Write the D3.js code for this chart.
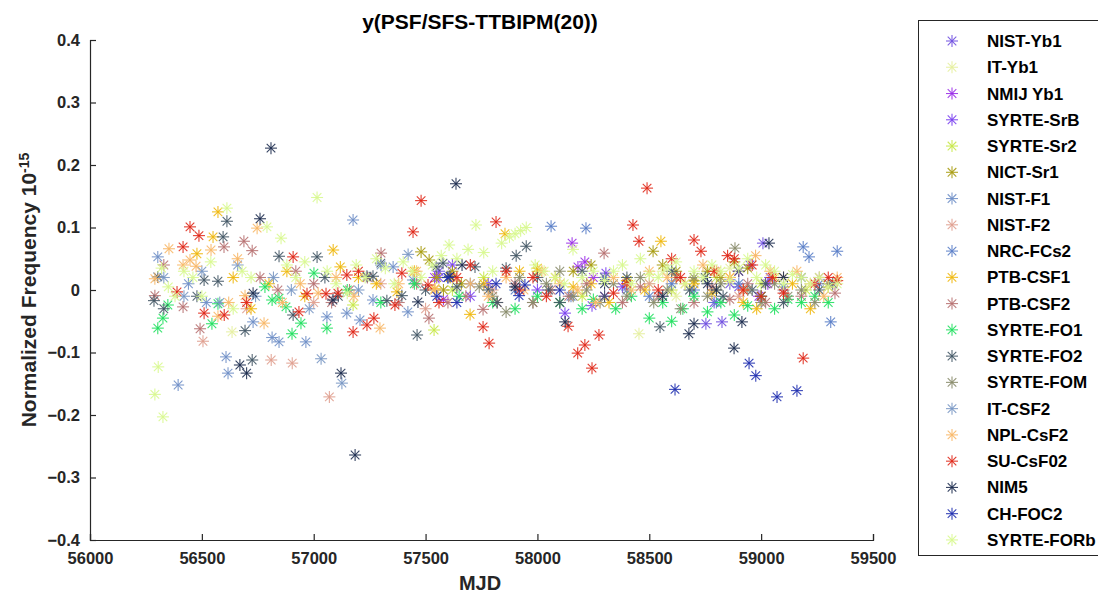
<!DOCTYPE html>
<html>
<head>
<meta charset="utf-8">
<script src="https://cdn.jsdelivr.net/npm/d3@7"></script>
<style>
  body { margin: 0; background: #fff; }
  text { font-family: "Liberation Sans", Arial, Helvetica, sans-serif; font-weight: bold; }
</style>
</head>
<body>
<svg id="chart"></svg>
<script>
// labs in legend order, values as [MJD, y (1e-15)]
const names = ["NIST-Yb1", "IT-Yb1", "NMIJ Yb1", "SYRTE-SrB", "SYRTE-Sr2", "NICT-Sr1",
  "NIST-F1", "NIST-F2", "NRC-FCs2", "PTB-CSF1", "PTB-CSF2", "SYRTE-FO1", "SYRTE-FO2",
  "SYRTE-FOM", "IT-CSF2", "NPL-CsF2", "SU-CsF02", "NIM5", "CH-FOC2", "SYRTE-FORb"];
const colors = ["#7050e0", "#e6f0a0", "#9b30e8", "#7a40f0", "#c8e84a", "#a89c12",
  "#7090c8", "#e0a090", "#5a7ec8", "#f0b810", "#b87272", "#22e060", "#445866",
  "#8a8c6c", "#7a98c4", "#f8b868", "#e02818", "#1e2e50", "#2030b0", "#d8f890"];

const nistYb1 = [[57560,0.03],[58753,-0.054],[58790,-0.02],[58825,-0.051],[58860,0.01],[58900,0.005],[58950,0.04],[59008,0.075],[59040,0.02]];
const itYb1 = [[56635,-0.067],[58454,-0.070],[58500,0.01],[58560,0.03],[58620,-0.01],[58700,0.02],[58800,0.0],[58860,0.035]];
const nmijYb1 = [[57540,0.02],[57580,-0.015],[58155,0.075],[58181,0.037],[58212,0.045],[58250,0.02],[58300,-0.01],[58900,0.03],[58990,-0.01],[59030,0.01]];
const syrteSrB = [[57560,0.02],[57620,0.04],[57700,-0.01],[57780,0.01],[58000,0.0],[58123,-0.037],[58244,-0.025],[58306,0.027],[58380,0.005]];
const syrteSr2 = [[57176,-0.024],[57538,-0.064],[57620,0.0],[57760,0.02],[58000,0.03],[58200,-0.01],[58400,0.015],[58600,0.0],[58800,0.02],[59000,0.01],[59200,0.0]];
const nictSr1 = [[57480,0.061],[57516,0.048],[57550,0.02],[57580,0.0],[57620,0.03],[57660,0.01],[58160,0.03],[58240,0.04],[58300,0.02],[58517,0.062],[58560,0.04],[58620,0.03],[58700,0.015],[58760,0.03],[58820,0.02],[58880,0.045],[58940,0.035]];
const nistF1 = [[56303,0.053],[56394,-0.152],[56440,0.01],[56520,-0.02],[56608,-0.107],[56617,-0.133],[56729,-0.051],[56814,-0.076],[56845,-0.083],[56965,-0.083],[57059,-0.043],[57148,-0.037],[57176,0.112],[57207,-0.048],[57265,-0.016],[57355,0.037],[57421,-0.035],[57444,0.016]];
const nistF2 = [[56505,-0.082],[56700,-0.03],[56810,-0.112],[56904,-0.117],[57000,-0.02],[57070,-0.171],[57300,0.01],[57500,-0.03],[57800,0.0],[58100,-0.02],[58500,0.01],[58900,-0.01]];
const nrcFCs2 = [[57600,0.02],[57700,0.01],[57900,0.0],[58061,0.102],[58150,-0.01],[58217,0.099],[58300,0.02],[58400,0.0],[58500,-0.01],[58600,0.01],[58700,0.0],[58800,-0.02],[58900,0.01],[59000,-0.01],[59100,0.005],[59188,0.069],[59214,0.053],[59260,0.01],[59311,-0.051],[59340,0.062]];
const ptbCSF1 = [[56478,0.058],[56550,0.085],[56572,0.125],[56640,0.02],[56720,-0.03],[56800,0.01],[56880,0.03],[56960,-0.01],[57087,0.064],[57119,0.037],[57200,0.02],[57280,0.01],[57372,-0.003],[57450,0.03],[57542,0.002],[57610,0.02],[57699,-0.039],[57760,0.01],[57855,0.09],[57920,0.03],[58000,0.035],[58080,0.02],[58160,0.005],[58240,0.01],[58320,-0.02],[58400,0.015],[58480,0.0],[58552,0.078],[58620,0.02],[58700,0.01],[58780,-0.005],[58860,0.02],[58920,-0.02],[58980,-0.03],[59060,0.02],[59140,0.01],[59220,-0.03],[59300,0.005]];
const ptbCSF2 = [[56290,-0.009],[56330,0.04],[56416,-0.027],[56492,-0.062],[56599,0.069],[56688,0.078],[56725,0.063],[56760,0.02],[56840,0.0],[56920,0.03],[57000,0.01],[57080,-0.02],[57160,0.0],[57240,0.02],[57301,0.059],[57380,-0.02],[57460,0.01],[57515,-0.045],[57600,-0.02],[57680,-0.01],[57757,-0.031],[57820,-0.02],[57900,0.01],[57980,-0.02],[58060,0.0],[58140,-0.01],[58220,0.01],[58298,0.059],[58380,-0.02],[58460,0.005],[58540,-0.01],[58620,0.02],[58700,-0.02],[58780,0.005],[58860,-0.015],[58940,0.01],[59020,-0.02],[59100,0.0],[59180,-0.01],[59260,0.02],[59330,-0.005]];
const syrteFO1 = [[56303,-0.061],[56326,-0.045],[56348,-0.024],[56545,-0.054],[56572,-0.022],[56782,0.005],[56814,-0.016],[56845,-0.013],[56876,-0.027],[56903,-0.07],[56943,-0.053],[57001,0.027],[57059,-0.061],[57150,0.0],[57300,-0.02],[57450,0.01],[57650,-0.01],[57800,-0.02],[57900,-0.03],[58000,-0.01],[58100,-0.02],[58200,-0.03],[58250,-0.015],[58350,-0.03],[58420,-0.01],[58500,-0.045],[58560,-0.02],[58600,-0.05],[58650,-0.03],[58700,-0.01],[58760,-0.035],[58820,-0.02],[58880,-0.04],[58940,-0.025],[59000,-0.01],[59060,-0.03],[59120,-0.015],[59180,-0.02],[59240,-0.01],[59300,-0.02]];
const syrteFO2 = [[56286,-0.017],[56303,0.021],[56330,-0.03],[56478,-0.01],[56510,0.016],[56572,0.014],[56595,0.085],[56612,0.11],[56693,-0.065],[56725,-0.112],[56845,0.054],[56908,-0.04],[57015,0.053],[57050,0.02],[57110,-0.01],[57238,0.022],[57265,0.022],[57300,0.043],[57327,-0.017],[57394,-0.009],[57462,-0.072],[57500,0.0],[57547,0.037],[57578,0.043],[57640,0.005],[57721,0.037],[57780,0.0],[57820,-0.02],[57860,0.035],[57905,0.055],[57950,0.07],[58000,0.02],[58050,0.0],[58100,-0.02],[58200,0.03],[58300,-0.01],[58400,0.02],[58548,-0.059],[58600,0.03],[58680,0.0],[58750,0.02],[58830,-0.01],[58900,0.03],[58960,0.0],[59020,0.01],[59100,-0.02],[59180,0.02],[59260,0.0],[59320,0.01]];
const syrteFOM = [[57740,0.005],[57800,-0.01],[57860,-0.035],[57920,0.02],[57980,-0.02],[58040,0.01],[58100,0.03],[58160,-0.01],[58220,0.0],[58280,-0.02],[58340,0.01],[58400,-0.01],[58460,0.02],[58520,-0.02],[58580,0.0],[58640,-0.03],[58700,0.02],[58760,-0.01],[58820,0.01],[58883,0.067],[58940,0.0],[59000,-0.02],[59060,0.01],[59120,-0.01],[59180,0.0],[59240,-0.02],[59300,0.01]];
const itCSF2 = [[56330,0.02],[56420,-0.01],[56500,0.03],[56580,-0.02],[56660,0.04],[56740,-0.01],[56820,0.02],[56900,0.0],[56980,-0.03],[57033,-0.11],[57126,-0.149],[57200,0.0],[57301,0.04],[57422,0.057]];
const nplCsF2 = [[56290,0.018],[56353,0.066],[56416,0.04],[56447,0.048],[56474,0.038],[56541,0.064],[56572,-0.042],[56620,-0.02],[56660,0.05],[56693,-0.009],[56747,0.099],[56778,-0.053],[56860,-0.02],[56940,0.01],[57020,-0.005],[57100,0.02],[57180,-0.01],[57296,-0.061],[57380,0.01],[57460,0.03],[57540,0.0],[57620,0.02],[57700,0.01],[57780,-0.01],[57860,0.02],[57940,0.0],[58020,0.03],[58100,0.01],[58180,0.0],[58260,-0.02],[58340,0.02],[58420,0.0],[58500,0.03],[58580,0.02],[58660,0.01],[58740,0.04],[58800,0.03],[58860,0.02],[58920,0.0],[58975,0.055],[59040,0.03],[59100,0.02],[59160,0.03],[59220,0.01],[59280,-0.01],[59340,0.02]];
const suCsF02 = [[56389,-0.003],[56416,0.069],[56447,0.101],[56487,0.087],[56510,-0.037],[56600,-0.04],[56700,-0.02],[56908,0.053],[56934,-0.035],[56970,-0.006],[57055,-0.006],[57108,-0.005],[57148,0.024],[57176,-0.067],[57200,0.03],[57238,-0.056],[57269,-0.045],[57363,-0.024],[57394,0.027],[57444,0.093],[57480,0.143],[57511,0.008],[57560,-0.02],[57640,0.02],[57700,0.04],[57757,-0.059],[57784,-0.085],[57815,0.109],[57860,0.03],[57920,0.0],[57980,0.02],[58040,-0.01],[58137,-0.058],[58180,-0.101],[58212,-0.088],[58244,-0.125],[58275,-0.072],[58340,-0.005],[58400,0.01],[58427,0.104],[58454,0.078],[58490,0.163],[58540,0.0],[58600,0.05],[58640,0.02],[58700,0.08],[58731,0.062],[58790,0.03],[58850,0.055],[58880,0.05],[58920,0.0],[58960,0.04],[59000,-0.01],[59050,0.02],[59100,-0.005],[59188,-0.109],[59240,0.01],[59300,0.02],[59340,0.015]];
const nim5 = [[56670,-0.12],[56700,-0.133],[56729,-0.005],[56760,0.114],[56809,0.227],[57086,-0.016],[57122,-0.133],[57185,-0.264],[57466,-0.019],[57609,0.022],[57636,0.17],[57663,0.04],[57900,0.005],[58124,-0.051],[58300,0.01],[58560,-0.01],[58677,-0.07],[58700,-0.054],[58760,0.01],[58800,0.0],[58879,-0.093],[58914,-0.051],[59035,0.075],[59100,0.02]];
const chFOC2 = [[57550,-0.01],[57600,0.02],[57640,-0.02],[57815,0.01],[57918,-0.009],[57944,0.008],[58100,0.0],[58615,-0.159],[58946,-0.117],[58976,-0.137],[59071,-0.171],[59160,-0.161]];
const syrteFORb = [[56290,-0.167],[56305,-0.123],[56326,-0.203],[56320,0.035],[56350,0.005],[56380,-0.01],[56420,0.03],[56460,0.02],[56500,-0.01],[56540,0.045],[56612,0.131],[56640,-0.03],[56680,0.03],[56720,0.02],[56791,0.101],[56854,0.083],[56880,0.04],[56920,0.02],[56960,0.045],[57015,0.148],[57060,0.03],[57100,0.01],[57150,-0.005],[57190,0.04],[57230,0.02],[57280,0.05],[57320,0.035],[57360,0.01],[57400,0.045],[57440,0.03],[57480,0.02],[57530,0.04],[57570,0.055],[57605,0.072],[57640,0.05],[57690,0.065],[57725,0.104],[57760,0.06],[57800,0.03],[57840,0.075],[57875,0.085],[57900,0.09],[57925,0.095],[57950,0.1],[57990,0.04],[58030,0.03],[58080,0.02],[58120,0.01],[58159,0.065],[58200,0.02],[58250,0.03],[58300,0.015],[58340,0.03],[58380,0.04],[58420,0.01],[58460,0.05],[58500,0.025],[58540,0.02],[58580,0.035],[58620,0.045],[58660,0.01],[58700,0.03],[58740,0.02],[58780,0.04],[58820,0.03],[58860,0.015],[58900,0.035],[58940,0.05],[58980,0.02],[59020,0.04],[59060,0.03],[59100,0.01],[59140,0.025],[59180,0.02],[59220,0.01],[59260,0.02],[59300,0.005],[59340,0.01]];

const seriesData = [nistYb1, itYb1, nmijYb1, syrteSrB, syrteSr2, nictSr1, nistF1, nistF2, nrcFCs2,
  ptbCSF1, ptbCSF2, syrteFO1, syrteFO2, syrteFOM, itCSF2, nplCsF2, suCsF02, nim5, chFOC2, syrteFORb];

const xTicks = [56000, 56500, 57000, 57500, 58000, 58500, 59000, 59500];
const yTicks = [-0.4, -0.3, -0.2, -0.1, 0, 0.1, 0.2, 0.3, 0.4];

const width = 1098, height = 596;
const mLeft = 90, mRight = 873, mTop = 40, mBottom = 540;

const svg = d3.select("#chart").attr("width", width).attr("height", height);

const x = d3.scaleLinear().domain([56000, 59500]).range([mLeft, mRight]);
const y = d3.scaleLinear().domain([-0.4, 0.4]).range([mBottom, mTop]);

// asterisk marker: plus + cross
const r = 6, rd = 4.3;
function star(g, px, py, color) {
  const s = g.append("g").attr("transform", `translate(${px},${py})`)
    .attr("stroke", color).attr("stroke-width", 1.1).attr("stroke-opacity", 0.9);
  s.append("line").attr("x1", -r).attr("x2", r).attr("y1", 0).attr("y2", 0);
  s.append("line").attr("x1", 0).attr("x2", 0).attr("y1", -r).attr("y2", r);
  s.append("line").attr("x1", -rd).attr("x2", rd).attr("y1", -rd).attr("y2", rd);
  s.append("line").attr("x1", -rd).attr("x2", rd).attr("y1", rd).attr("y2", -rd);
}

const plot = svg.append("g");
seriesData.forEach((pts, i) => {
  pts.forEach(d => star(plot, x(d[0]), y(d[1]), colors[i]));
});

// axes (box off, ticks inward)
const xAxis = svg.append("g").attr("transform", `translate(0,${mBottom})`)
  .call(d3.axisBottom(x).tickValues(xTicks).tickSize(-6).tickPadding(10).tickFormat(d3.format("d")));
const yAxis = svg.append("g").attr("transform", `translate(${mLeft},0)`)
  .call(d3.axisLeft(y).tickValues(yTicks).tickSize(-6).tickPadding(10)
    .tickFormat(d => d === 0 ? "0" : d3.format(".1f")(d)));
[xAxis, yAxis].forEach(a => {
  a.select(".domain").attr("stroke", "#262626").attr("stroke-width", 1.2);
  a.selectAll(".tick line").attr("stroke", "#262626").attr("stroke-width", 1.2);
  a.selectAll(".tick text").attr("fill", "#262626").style("font-size", "16.5px");
});
xAxis.selectAll(".tick text").attr("dy", "0.85em");

svg.append("text").attr("x", 480).attr("y", 29).attr("text-anchor", "middle")
  .style("font-size", "21px").attr("fill", "#000").text("y(PSF/SFS-TTBIPM(20))");

svg.append("text").attr("x", 480).attr("y", 590).attr("text-anchor", "middle")
  .style("font-size", "20px").attr("fill", "#262626").text("MJD");

const yl = svg.append("text").attr("transform", "translate(36,290) rotate(-90)")
  .attr("text-anchor", "middle").style("font-size", "21px").attr("fill", "#262626");
yl.append("tspan").text("Normalized Frequency 10");
yl.append("tspan").attr("dy", "-0.5em").style("font-size", "14px").text("-15");

// legend
const legend = svg.append("g");
legend.append("rect").attr("x", 918.5).attr("y", 20.5).attr("width", 200).attr("height", 535)
  .attr("fill", "#fff").attr("stroke", "#262626").attr("stroke-width", 1);
names.forEach((n, i) => {
  const ly = 41 + i * 26.26;
  star(legend, 952, ly, colors[i]);
  legend.append("text").attr("x", 987).attr("y", ly + 6).style("font-size", "17px")
    .attr("fill", "#000").text(n);
});
</script>
</body>
</html>
